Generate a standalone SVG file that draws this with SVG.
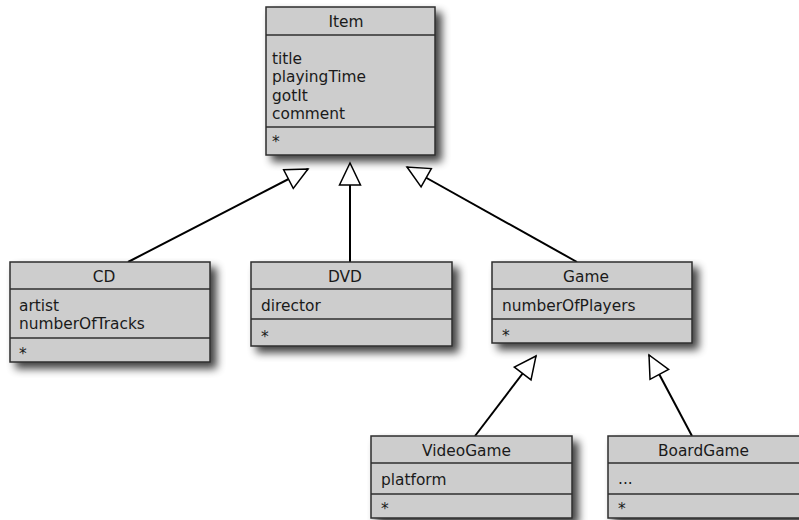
<svg xmlns="http://www.w3.org/2000/svg" width="799" height="520" viewBox="0 0 799 520">
  <style>
    .box { fill: #cdcdcd; stroke: #2e2e2e; stroke-width: 1.5; }
    .sep { stroke: #2e2e2e; stroke-width: 1.5; fill: none; }
    text { font-family: "DejaVu Sans", Verdana, sans-serif; font-size: 15.4px; fill: #1a1a1a; }
    .title { text-anchor: middle; }
    .edge { stroke: #000; stroke-width: 2; fill: none; marker-end: url(#inherit); }
  </style>
  <defs>
    <filter id="shadow" x="-10%" y="-10%" width="130%" height="140%">
      <feGaussianBlur in="SourceAlpha" stdDeviation="4"/>
      <feOffset dx="6" dy="6" result="blur"/>
      <feComponentTransfer><feFuncA type="linear" slope="0.75"/></feComponentTransfer>
      <feMerge><feMergeNode/><feMergeNode in="SourceGraphic"/></feMerge>
    </filter>
    <!-- hollow generalization arrowhead -->
    <marker id="inherit" markerUnits="userSpaceOnUse" viewBox="-24 -12 26 24" refX="0" refY="0" markerWidth="26" markerHeight="24" orient="auto">
      <path d="M0,0 L-22,-10.5 L-22,10.5 Z" fill="#fff" stroke="#000" stroke-width="1.5" stroke-linejoin="miter"/>
    </marker>
  </defs>

  <g id="connectors">
    <line class="edge" x1="128" y1="262" x2="308" y2="169"/>
    <line class="edge" x1="350" y1="262" x2="350" y2="163"/>
    <line class="edge" x1="577" y1="262" x2="407" y2="167"/>
    <line class="edge" x1="475" y1="436" x2="536" y2="356"/>
    <line class="edge" x1="692" y1="436" x2="649" y2="355"/>
  </g>

  <g id="item">
    <rect class="box" x="266" y="7" width="169" height="148" filter="url(#shadow)"/>
    <line class="sep" x1="266" y1="35" x2="435" y2="35"/>
    <line class="sep" x1="266" y1="127" x2="435" y2="127"/>
    <text class="title" x="346" y="27">Item</text>
    <text x="272" y="64">title</text>
    <text x="272" y="82">playingTime</text>
    <text x="272" y="101">gotIt</text>
    <text x="272" y="119">comment</text>
    <text x="272" y="147">*</text>
  </g>

  <g id="cd">
    <rect class="box" x="10" y="262" width="200" height="100" filter="url(#shadow)"/>
    <line class="sep" x1="10" y1="289" x2="210" y2="289"/>
    <line class="sep" x1="10" y1="338" x2="210" y2="338"/>
    <text class="title" x="104" y="282">CD</text>
    <text x="19" y="311">artist</text>
    <text x="19" y="329">numberOfTracks</text>
    <text x="19" y="359">*</text>
  </g>

  <g id="dvd">
    <rect class="box" x="251" y="262" width="201" height="84" filter="url(#shadow)"/>
    <line class="sep" x1="251" y1="289" x2="452" y2="289"/>
    <line class="sep" x1="251" y1="319" x2="452" y2="319"/>
    <text class="title" x="345" y="282">DVD</text>
    <text x="261" y="311">director</text>
    <text x="261" y="342">*</text>
  </g>

  <g id="game">
    <rect class="box" x="492" y="262" width="200" height="81" filter="url(#shadow)"/>
    <line class="sep" x1="492" y1="289" x2="692" y2="289"/>
    <line class="sep" x1="492" y1="319" x2="692" y2="319"/>
    <text class="title" x="586" y="282">Game</text>
    <text x="502" y="311">numberOfPlayers</text>
    <text x="502" y="341">*</text>
  </g>

  <g id="videogame">
    <rect class="box" x="371" y="436" width="201" height="82" filter="url(#shadow)"/>
    <line class="sep" x1="371" y1="463" x2="572" y2="463"/>
    <line class="sep" x1="371" y1="494" x2="572" y2="494"/>
    <text class="title" x="466.5" y="456">VideoGame</text>
    <text x="381" y="485">platform</text>
    <text x="381" y="514">*</text>
  </g>

  <g id="boardgame">
    <rect class="box" x="608" y="436" width="202" height="82" filter="url(#shadow)"/>
    <line class="sep" x1="608" y1="463" x2="810" y2="463"/>
    <line class="sep" x1="608" y1="494" x2="810" y2="494"/>
    <text class="title" x="703.5" y="456">BoardGame</text>
    <text x="618" y="484">...</text>
    <text x="618" y="514">*</text>
  </g>
</svg>
